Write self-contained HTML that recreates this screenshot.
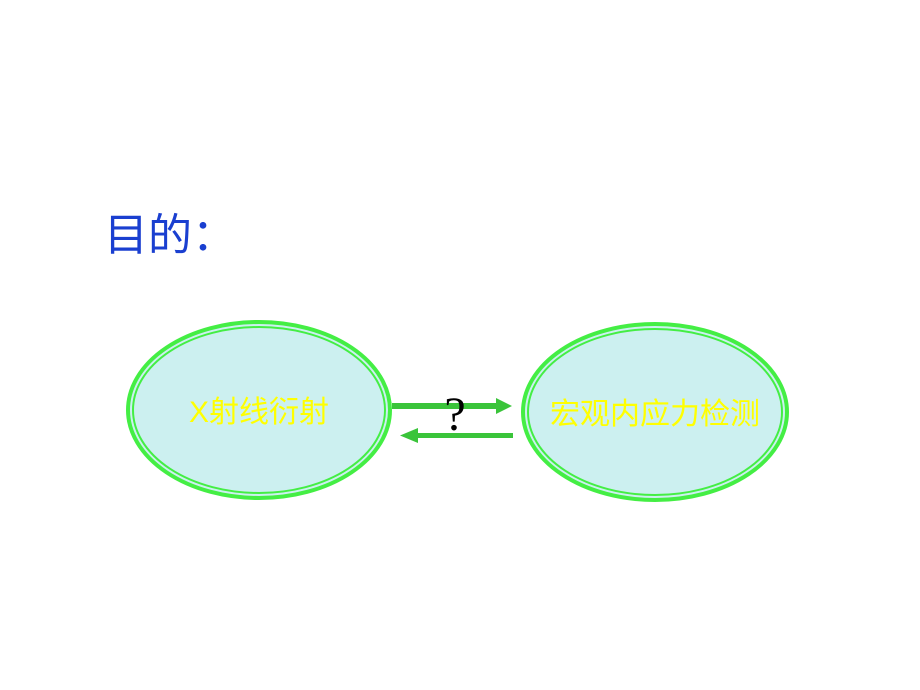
<!DOCTYPE html>
<html><head><meta charset="utf-8"><style>
body{margin:0;width:920px;height:690px;background:#fff;overflow:hidden;position:relative;font-family:"Liberation Sans","Noto Sans CJK SC",sans-serif}
.t{position:absolute;left:104px;top:208px;font-size:44px;color:#1a3fd0;line-height:56px}
</style></head><body>
<div class="t">目的：</div>
<svg width="920" height="690" style="position:absolute;left:0;top:0">
<g fill="#ccf0f0" stroke="#44ee44">
<ellipse cx="259" cy="410" rx="131" ry="88" stroke-width="4"/>
<ellipse cx="259" cy="410" rx="126" ry="83" fill="none" stroke-width="2"/>
<ellipse cx="655" cy="412" rx="132" ry="88" stroke-width="4"/>
<ellipse cx="655" cy="412" rx="127" ry="83" fill="none" stroke-width="2"/>
</g>
<g fill="#3ac43a" stroke="none">
<rect x="392" y="403" width="106" height="6"/>
<polygon points="496,398 512,406 496,414"/>
<rect x="416" y="433" width="97" height="5"/>
<polygon points="418,428 400,435.5 418,443"/>
</g>
<text x="259" y="422" font-size="30" fill="#ffff00" text-anchor="middle" font-family="Liberation Sans,Noto Sans CJK SC,sans-serif">X射线衍射</text>
<text x="655" y="424" font-size="30" fill="#ffff00" text-anchor="middle" font-family="Liberation Sans,Noto Sans CJK SC,sans-serif">宏观内应力检测</text>
<text x="455" y="430" font-size="48" fill="#000" text-anchor="middle" font-family="Liberation Serif,serif">?</text>
</svg>
</body></html>
